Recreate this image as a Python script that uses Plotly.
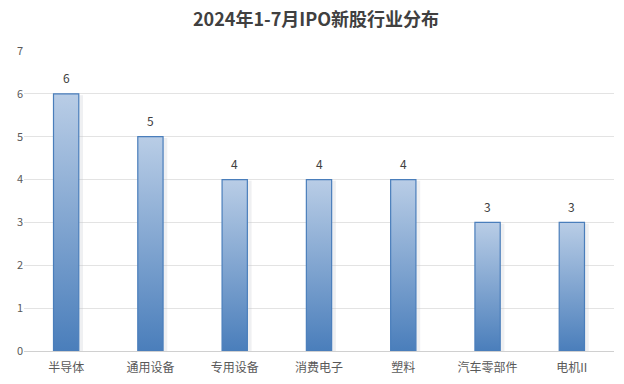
import plotly.graph_objects as go

categories = ["半导体", "通用设备", "专用设备", "消费电子", "塑料", "汽车零部件", "电机II"]
values = [6, 5, 4, 4, 4, 3, 3]
y_ticks = [0, 1, 2, 3, 4, 5, 6, 7]

half_w = 0.15
fig = go.Figure()

for i, v in enumerate(values):
    # faint shadow
    fig.add_trace(go.Scatter(
        x=[i - half_w + 0.03, i + half_w + 0.05, i + half_w + 0.05, i - half_w + 0.03, i - half_w + 0.03],
        y=[0, 0, v - 0.03, v - 0.03, 0],
        mode="lines", fill="toself", line=dict(width=0),
        fillcolor="rgba(190,195,205,0.25)", hoverinfo="skip", showlegend=False))
    fig.add_trace(go.Scatter(
        x=[i - half_w, i + half_w, i + half_w, i - half_w, i - half_w],
        y=[0, 0, v, v, 0],
        mode="lines", fill="toself",
        line=dict(color="#4a7ebb", width=1.2),
        fillgradient=dict(type="vertical",
                          colorscale=[[0, "#4a7ebb"], [1, "#b9cde6"]]),
        hoverinfo="skip", showlegend=False))
    fig.add_annotation(x=i, y=v, text=str(v), showarrow=False, yshift=16,
                       font=dict(family="Noto Sans CJK SC", size=12, color="#404040"))

fig.update_layout(
    width=616, height=376,
    margin=dict(l=9, r=10, t=43, b=30),
    paper_bgcolor="white", plot_bgcolor="white",
    title=dict(text="<b>2024年1-7月IPO新股行业分布</b>", x=0.5, xanchor="center",
               y=1 - 12 / 376, yanchor="middle",
               font=dict(family="Noto Sans CJK SC", size=18, color="#404040")),
    xaxis=dict(range=[-0.5, len(categories) - 0.5], tickvals=list(range(len(categories))),
               ticktext=categories, showgrid=False, zeroline=False, showline=False,
               ticks="outside", ticklen=6, tickcolor="rgba(0,0,0,0)",
               tickfont=dict(family="Noto Sans CJK SC", size=12, color="#595959")),
    yaxis=dict(range=[0, 7], tickvals=y_ticks, showgrid=True, gridcolor="#e3e3e3",
               gridwidth=1, zeroline=True, zerolinecolor="#d0d0d0", zerolinewidth=1,
               tickfont=dict(family="Noto Sans CJK SC", size=11, color="#595959")),
)

fig.write_html("out.html")
